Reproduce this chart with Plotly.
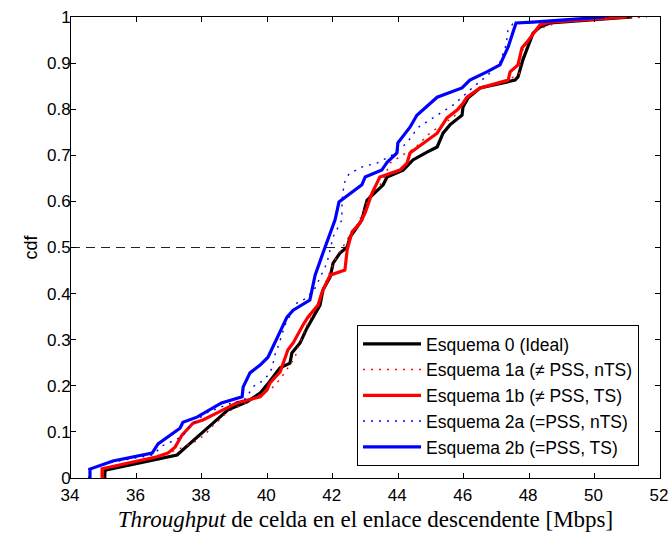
import plotly.graph_objects as go

# ---------------- data ----------------
x_ticks = [34, 36, 38, 40, 42, 44, 46, 48, 50, 52]
y_ticks = [0, 0.1, 0.2, 0.3, 0.4, 0.5, 0.6, 0.7, 0.8, 0.9, 1]

median_x = [34, 42.45]
median_y = [0.5, 0.5]

e0_x = [35.03, 35.04, 37.24, 37.42, 37.85, 38.34, 38.80, 39.38, 39.78, 39.99, 40.39, 40.69,
        40.75, 41.00, 41.21, 41.40, 41.61, 41.70, 41.92, 42.01, 42.22, 42.44, 42.53, 42.68,
        42.89, 42.99, 43.05, 43.54, 43.66, 44.15, 44.45, 44.88, 45.19, 45.37, 45.58, 45.95,
        45.98, 46.13, 46.50, 47.57, 47.66, 47.81, 48.12, 48.33, 48.64, 51.15]
e0_y = [0, 0.017, 0.050, 0.061, 0.087, 0.119, 0.148, 0.165, 0.184, 0.202, 0.239, 0.249,
        0.271, 0.293, 0.325, 0.349, 0.375, 0.408, 0.436, 0.466, 0.488, 0.501, 0.523, 0.538,
        0.560, 0.588, 0.603, 0.636, 0.653, 0.668, 0.690, 0.707, 0.718, 0.748, 0.766, 0.787,
        0.805, 0.824, 0.846, 0.863, 0.870, 0.907, 0.965, 0.978, 0.987, 1.0]

e1a_x = [35.0, 35.0, 36.6, 37.2, 37.73, 37.94, 38.1, 38.25, 38.45, 38.77, 39.4, 39.9, 40.14,
         40.4, 40.63, 40.85, 40.91, 41.0, 41.2, 41.5, 41.7, 41.9, 42.05, 42.3, 42.55, 42.75,
         42.95, 43.1, 43.5, 43.75, 44.12, 44.5, 44.9, 45.3, 45.7, 45.95, 46.2, 46.6, 47.3,
         47.7, 47.75, 47.95, 48.3, 49.0, 51.6]
e1a_y = [0, 0.02, 0.045, 0.06, 0.076, 0.087, 0.093, 0.108, 0.12, 0.143, 0.165, 0.185, 0.195,
         0.215, 0.239, 0.262, 0.278, 0.295, 0.33, 0.37, 0.41, 0.445, 0.47, 0.50, 0.53, 0.55,
         0.58, 0.61, 0.64, 0.683, 0.70, 0.715, 0.744, 0.765, 0.783, 0.81, 0.83, 0.846, 0.86,
         0.878, 0.92, 0.95, 0.975, 0.99, 1.0]

e1b_x = [34.95, 34.95, 36.63, 36.96, 37.18, 37.39, 37.73, 38.03, 38.77, 39.07, 39.78, 39.99,
         40.08, 40.39, 40.63, 40.79, 41.09, 41.24, 41.55, 41.67, 41.92, 42.37, 42.44, 42.59,
         42.83, 42.99, 43.20, 43.44, 44.05, 44.27, 44.36, 44.88, 45.19, 45.49, 45.80, 45.98,
         46.10, 46.50, 47.36, 47.42, 47.66, 47.78, 47.94, 48.33, 48.64, 51.0]
e1b_y = [0, 0.020, 0.046, 0.054, 0.067, 0.093, 0.119, 0.126, 0.152, 0.163, 0.176, 0.191,
         0.206, 0.230, 0.278, 0.293, 0.332, 0.349, 0.375, 0.403, 0.440, 0.451, 0.495, 0.534,
         0.553, 0.575, 0.618, 0.653, 0.668, 0.683, 0.705, 0.733, 0.748, 0.781, 0.798, 0.813,
         0.826, 0.846, 0.863, 0.881, 0.896, 0.933, 0.946, 0.983, 0.989, 1.0]

e2a_x = [34.55, 34.55, 35.3, 36.5, 36.8, 37.4, 37.6, 38.1, 38.8, 39.3, 39.45, 39.6, 39.84,
         40.05, 40.15, 40.23, 40.33, 40.54, 40.91, 41.2, 41.46, 41.82, 42.01, 42.28, 42.28,
         42.35, 42.5, 42.9, 43.35, 43.8, 44.27, 44.6, 45.19, 45.7, 46.29, 46.74, 47.11, 47.3,
         47.35, 47.5, 48.5, 50.5]
e2a_y = [0, 0.02, 0.035, 0.05, 0.07, 0.09, 0.11, 0.14, 0.16, 0.17, 0.185, 0.20, 0.21,
         0.225, 0.24, 0.267, 0.285, 0.332, 0.38, 0.39, 0.412, 0.466, 0.523, 0.56, 0.60,
         0.64, 0.66, 0.675, 0.683, 0.70, 0.727, 0.76, 0.787, 0.81, 0.848, 0.874, 0.902, 0.94,
         0.97, 0.985, 0.99, 1.0]

e2b_x = [34.58, 34.58, 35.28, 36.48, 36.66, 37.33, 37.42, 37.85, 38.6, 39.23, 39.26, 39.47,
         39.78, 40.02, 40.60, 40.79, 41.30, 41.46, 41.70, 41.92, 42.07, 42.19, 42.89, 42.99,
         43.50, 43.66, 43.96, 43.99, 44.36, 44.57, 45.19, 45.95, 46.19, 46.71, 47.11, 47.36,
         47.60, 48.12, 50.32]
e2b_y = [0, 0.0195, 0.037, 0.054, 0.074, 0.108, 0.121, 0.132, 0.163, 0.176, 0.197, 0.228,
         0.245, 0.262, 0.349, 0.364, 0.386, 0.440, 0.488, 0.531, 0.560, 0.599, 0.636, 0.653,
         0.668, 0.685, 0.705, 0.727, 0.761, 0.787, 0.826, 0.846, 0.863, 0.881, 0.896, 0.935,
         0.987, 0.989, 1.0]

names = ["Esquema 0 (Ideal)", "Esquema 1a (≠ PSS, nTS)", "Esquema 1b (≠ PSS, TS)",
         "Esquema 2a (=PSS, nTS)", "Esquema 2b (=PSS, TS)"]

# ---------------- figure ----------------
fig = go.Figure()

fig.add_trace(go.Scatter(x=median_x, y=median_y, mode="lines", showlegend=False,
                         line=dict(color="#222222", width=1, dash="9px,6px"),
                         hoverinfo="skip"))

series = [
    (e0_x, e0_y, dict(color="black", width=3.2)),
    (e1a_x, e1a_y, dict(color="#ff0000", width=1.4, dash="2px,6px")),
    (e1b_x, e1b_y, dict(color="#ff0000", width=3.2)),
    (e2a_x, e2a_y, dict(color="#0000ff", width=1.4, dash="2px,6px")),
    (e2b_x, e2b_y, dict(color="#0000ff", width=3.2)),
]
for i, (xs, ys, ln) in enumerate(series):
    fig.add_trace(go.Scatter(x=xs, y=ys, mode="lines", name=names[i], line=ln))

axis_common = dict(
    showline=True, linecolor="black", linewidth=1, mirror="ticks",
    ticks="inside", ticklen=5, tickwidth=1, tickcolor="black",
    showgrid=False, zeroline=False, ticklabeloverflow="allow",
    tickfont=dict(family="Liberation Sans, Arial, sans-serif", size=17, color="black"),
)

fig.update_layout(
    width=669, height=533,
    margin=dict(l=71, r=9, t=17, b=55, autoexpand=False),
    paper_bgcolor="white", plot_bgcolor="white",
    xaxis=dict(range=[34, 52], tickmode="array", tickvals=x_ticks,
               ticktext=[str(v) for v in x_ticks],
               ticklabelstandoff=2, ticklabelshift=-1,
               title=dict(text="<i>Throughput</i> de celda en el enlace descendente [Mbps]",
                          font=dict(family="Liberation Serif, Times New Roman, serif",
                                    size=23, color="black"),
                          standoff=6),
               **axis_common),
    yaxis=dict(range=[0, 1], tickmode="array", tickvals=y_ticks,
               ticktext=[f"{v:g}" for v in y_ticks],
               ticklabelstandoff=-4,
               title=dict(text="cdf",
                          font=dict(family="Liberation Sans, Arial, sans-serif",
                                    size=18, color="black"),
                          standoff=4),
               **axis_common),
    legend=dict(x=0.4856, y=0.332, xanchor="left", yanchor="top",
                bgcolor="white", bordercolor="black", borderwidth=1,
                font=dict(family="Liberation Sans, Arial, sans-serif", size=17.5,
                          color="black"),
                itemwidth=58, traceorder="normal"),
)

# remove the default page margin so the 669x533 figure fills the window exactly
fig.write_html("out.html",
               config={"displayModeBar": False},
               post_script="document.body.style.margin='0';"
                           "document.body.style.overflow='hidden';")
